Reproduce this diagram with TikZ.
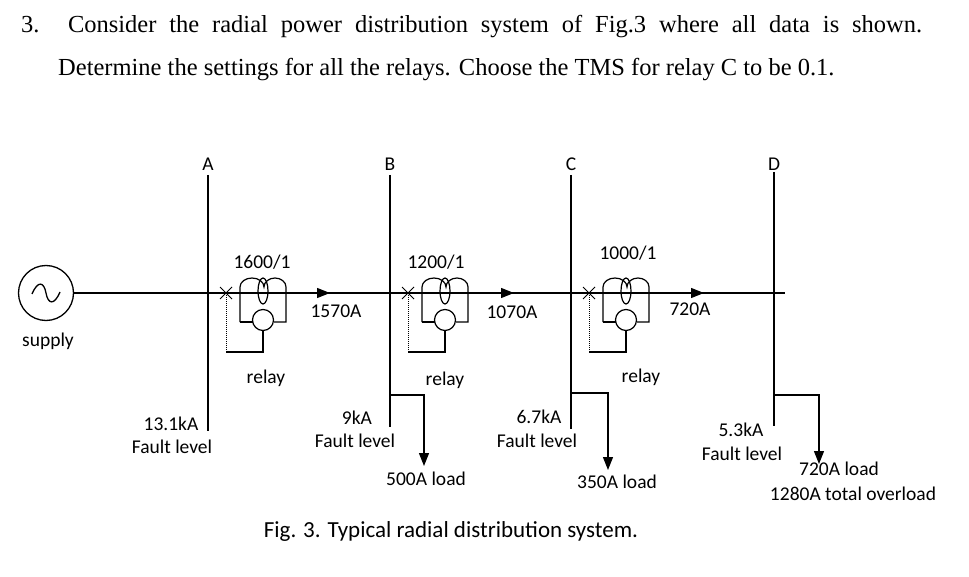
\documentclass[tikz,border=0pt]{standalone}
\usepackage{fontspec}
\setmainfont{Liberation Serif}
\newfontfamily\diagfont{Carlito}
\usetikzlibrary{arrows.meta}
\begin{document}
\begin{tikzpicture}[x=1pt,y=-1pt,
  lbl/.style={font=\diagfont\fontsize{19.5}{22}\selectfont,inner sep=0pt},
  ln/.style={line width=1.2pt},
  flow/.style={-{Triangle[length=13pt,width=10pt]},line width=1.2pt}]
\useasboundingbox (0,0) rectangle (969,577);
% question
\node[anchor=west,inner sep=0pt,font=\fontsize{24.5}{28}\selectfont] (q1) at (21,27)
  {\makebox[901pt][s]{3. Consider the radial power distribution system of Fig.3 where all data is shown.}};
\node[anchor=west,inner sep=0pt,font=\fontsize{24.5}{28}\selectfont] (q2) at (58,70)
  {Determine the settings for all the relays. Choose the TMS for relay C to be 0.1.};
% supply
\node[circle,draw,line width=1.3pt,minimum size=55pt,inner sep=0pt] (src) at (46,293) {};
\draw[line width=1.3pt] (32,294) .. controls (38,280) and (44,282) .. (46,293) .. controls (48,304) and (54,306) .. (60,292);
\node[lbl] (sup) at (48,341) {supply};
% main line
\coordinate (mainR) at (785,293);
\draw[ln] (src.east) -- (mainR);
% buses
\foreach \n/\x/\t/\b in {A/208/175/431,B/390/175/427,C/571/175/429,D/774/172/426}{
  \draw[ln] (\x,\t) coordinate (top\n) -- (\x,\b) coordinate (bot\n);
  \node[lbl] (name\n) at (\x,164) {\n};
}
% relays
\foreach \n/\x in {A/208,B/390,C/571}{
  \begin{scope}[shift={(\x,0)}]
    \draw[line width=1pt] (12,287) -- (24,299) (12,299) -- (24,287);
    \draw[ln] (32,322) -- (32,287) arc[start angle=180,end angle=360,x radius=12,y radius=9]
      arc[start angle=180,end angle=360,x radius=11,y radius=9] -- (78,322) -- (66,322);
    \draw[ln] (32,322) -- (45,322);
    \draw[ln] (55,291) ellipse[x radius=5,y radius=13];
    \node[circle,draw,line width=1.2pt,minimum size=21pt,inner sep=0pt] (rc\n) at (55,320) {};
    \draw[ln] (rc\n.south) -- (55,352) -- (18,352);
    \draw[densely dotted,line width=1pt] (18,352) -- (18,294);
  \end{scope}
}
\node[lbl] (ctA) at (262,262) {1600/1};
\node[lbl] (ctB) at (436,262) {1200/1};
\node[lbl] (ctC) at (628,253) {1000/1};
\node[lbl] (rlA) at (266,378) {relay};
\node[lbl] (rlB) at (445,380) {relay};
\node[lbl] (rlC) at (641,377) {relay};
% flow arrows
\draw[flow] (305,293) -- (330,293);
\draw[flow] (490,293) -- (514,293);
\draw[flow] (680,293) -- (704,293);
\node[lbl] (iA) at (336,311) {1570A};
\node[lbl] (iB) at (512,312) {1070A};
\node[lbl] (iC) at (690,309) {720A};
% loads
\draw[flow] (390,395) -- (424,395) -- (424,466);
\draw[flow] (571,393) -- (608,393) -- (608,470);
\draw[flow] (774,395) -- (819,395) -- (819,464);
\node[lbl] (lB) at (426,479) {500A load};
\node[lbl] (lC) at (617,482) {350A load};
\node[lbl] (lD) at (839,469) {720A load};
\node[lbl] (oD) at (853,494) {1280A total overload};
% fault levels
\node[lbl] (fA1) at (171,424) {13.1kA};
\node[lbl] (fA2) at (172,447) {Fault level};
\node[lbl] (fB1) at (357,418) {9kA};
\node[lbl] (fB2) at (355,441) {Fault level};
\node[lbl] (fC1) at (539,417) {6.7kA};
\node[lbl] (fC2) at (537,441) {Fault level};
\node[lbl] (fD1) at (741,430) {5.3kA};
\node[lbl] (fD2) at (742,454) {Fault level};
% caption
\node[font=\diagfont\fontsize{23}{26}\selectfont,inner sep=0pt] (cap) at (451,531) {Fig. 3. Typical radial distribution system.};
\end{tikzpicture}
\end{document}
